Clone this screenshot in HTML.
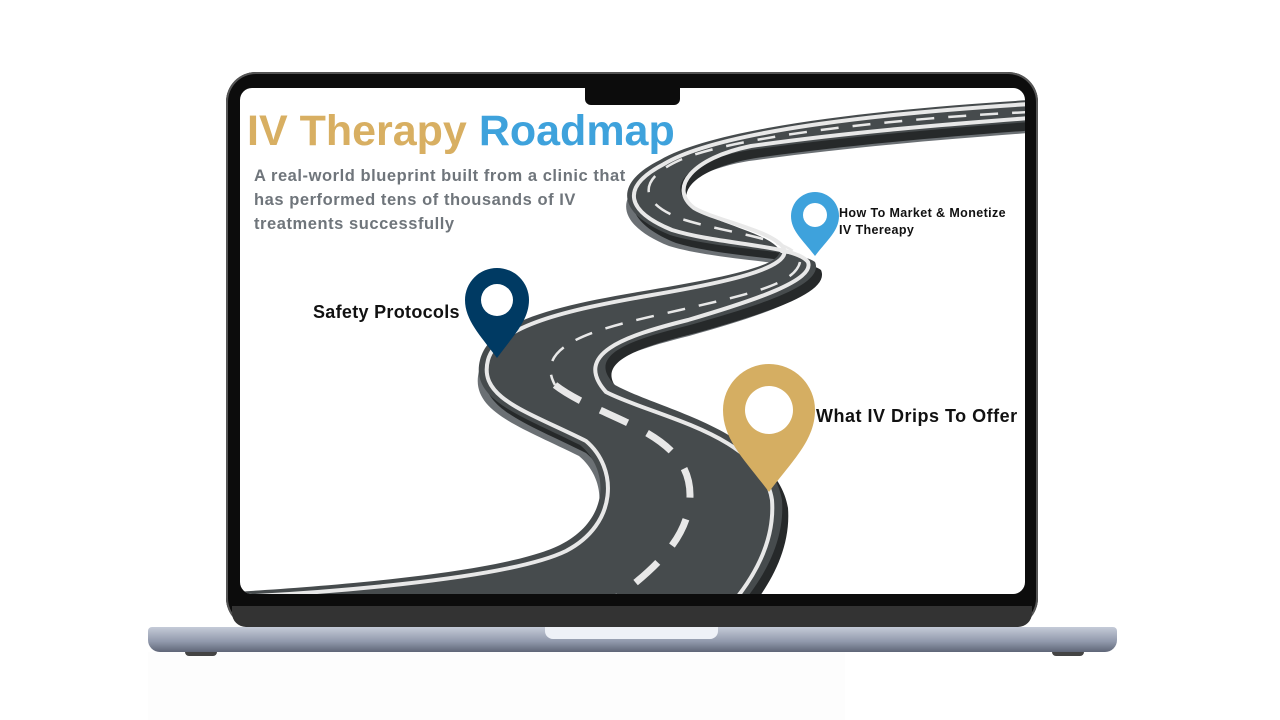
<!DOCTYPE html>
<html><head><style>
body{margin:0;width:1280px;height:720px;background:#fff;overflow:hidden;position:relative;font-family:"Liberation Sans",sans-serif}
.abs{position:absolute}
</style></head><body>
<div class="abs" style="left:148px;top:652px;width:697px;height:68px;background:#fdfdfd"></div>
<div class="abs" style="left:226px;top:72px;width:812px;height:556px;border-radius:30px;background:#0c0c0c;box-shadow:inset 0 0 0 2px #555"></div>
<div class="abs" style="left:232px;top:606px;width:800px;height:21px;background:#333;border-radius:0 0 14px 14px"></div>
<div class="abs" style="left:240px;top:88px;width:785px;height:506px;border-radius:12px;background:#fff;overflow:hidden">
<svg width="785" height="506" viewBox="240 88 785 506" style="position:absolute;left:0;top:0">
<defs>
<path id="road" d="M1030,100 C900,108 720,125 660,160 C610,185 620,215 670,235 C720,250 800,250 815,262 C825,285 760,305 690,325 C630,340 585,355 615,385 C660,410 770,430 782,500 C785,540 765,575 745,600 L745,620 L235,620 L235,592 C300,588 500,575 560,545 C610,520 610,470 580,445 C520,415 470,400 480,360 C490,320 560,305 650,290 C720,278 790,265 778,248 C765,232 710,222 690,205 C665,185 690,160 750,150 C850,136 950,128 1030,122 Z"/>
</defs>
<use href="#road" fill="#6b7074" transform="translate(-1,11)"/>
<use href="#road" fill="#26292a" transform="translate(6,8)"/>
<use href="#road" fill="#464b4d"/>
<g fill="none" stroke="#e8e8e8">
 <path stroke-width="4" d="M235,597 C300,594 504,581 566,551 C618,524 618,468 586,441 C526,411 478,398 488,360 C497,326 566,310 652,295 C722,283 796,268 783,247 C770,230 714,220 694,208 C668,188 692,158 751,146 C850,132 950,124 1030,118"/>
 <path stroke-width="4" d="M1030,104 C900,112 722,129 664,164 C618,188 628,212 672,230 C720,245 796,245 808,262 C815,280 756,300 688,320 C624,336 572,354 606,392 C652,416 762,434 772,500 C775,540 755,575 735,600"/>
 <path stroke-width="2.5" stroke-dasharray="18 14" d="M1030,112 C900,118 735,136 680,160 C635,180 640,205 685,220 C730,234 800,240 800,262 C795,285 745,295 680,310 C615,325 530,340 555,385"/>
 <path stroke-width="7" stroke-dasharray="30 22" d="M555,385 C600,420 690,430 690,495 C690,545 640,580 600,610"/>
</g>
<g>
 <path d="M497,358 C480,335 465,320 465,300 A32,32 0 0 1 529,300 C529,320 514,335 497,358Z" fill="#003a63"/>
 <circle cx="497" cy="300" r="16" fill="#fff"/>
 <path d="M769,492 C745,460 723,440 723,410 A46,46 0 0 1 815,410 C815,440 793,460 769,492Z" fill="#d5ae62"/>
 <circle cx="769" cy="410" r="24" fill="#fff"/>
 <path d="M815,256 C803,240 791,231 791,216 A24,24 0 0 1 839,216 C839,231 827,240 815,256Z" fill="#3ea2dc"/>
 <circle cx="815" cy="215" r="12" fill="#fff"/>
</g>
</svg>
<div class="abs" style="left:7px;top:19px;font-size:43px;font-weight:bold;white-space:nowrap"><span style="color:#d8af62">IV Therapy</span> <span style="color:#3ea2dc">Roadmap</span></div>
<div class="abs" style="left:14px;top:76px;width:385px;font-size:16.5px;line-height:24px;letter-spacing:0.55px;font-weight:bold;color:#6f757b">A real-world blueprint built from a clinic that has performed tens of thousands of IV treatments successfully</div>
<div class="abs" style="left:73px;top:214px;font-size:18px;letter-spacing:0.3px;font-weight:bold;color:#111;white-space:nowrap">Safety Protocols</div>
<div class="abs" style="left:576px;top:318px;font-size:18px;letter-spacing:0.5px;font-weight:bold;color:#111;white-space:nowrap">What IV Drips To Offer</div>
<div class="abs" style="left:599px;top:117px;font-size:12.5px;letter-spacing:0.4px;line-height:17px;font-weight:bold;color:#111;white-space:nowrap">How To Market &amp; Monetize<br>IV Thereapy</div>
</div>
<div class="abs" style="left:585px;top:86px;width:95px;height:19px;background:#0c0c0c;border-radius:0 0 6px 6px"></div>
<div class="abs" style="left:148px;top:627px;width:969px;height:25px;border-radius:4px 4px 12px 12px;background:linear-gradient(#c5cbd8,#8f97aa 60%,#5f6678)"></div>
<div class="abs" style="left:545px;top:627px;width:173px;height:12px;border-radius:0 0 8px 8px;background:#eef1f7"></div>
<div class="abs" style="left:185px;top:652px;width:32px;height:4px;background:#444;border-radius:0 0 4px 4px"></div>
<div class="abs" style="left:1052px;top:652px;width:32px;height:4px;background:#444;border-radius:0 0 4px 4px"></div>
</body></html>
